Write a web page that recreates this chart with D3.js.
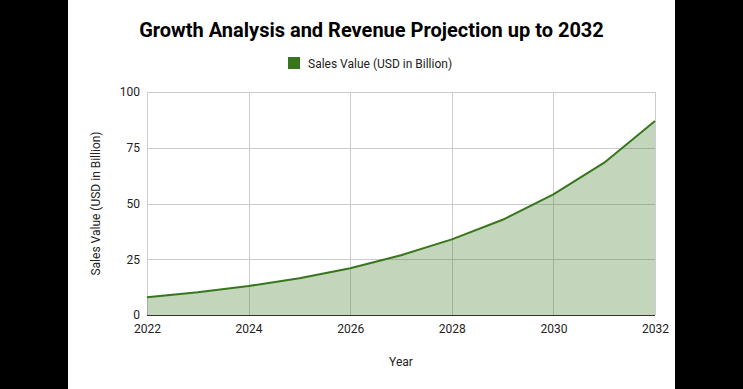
<!DOCTYPE html>
<html>
<head>
<meta charset="utf-8">
<script src="https://cdn.jsdelivr.net/npm/d3@7"></script>
<style>
  body{margin:0;background:#000;}
  svg{display:block;}
  text{font-family:Roboto,"Noto Sans",sans-serif;}
</style>
</head>
<body>
<script>
// chart data
var years=[2022,2023,2024,2025,2026,2027,2028,2029,2030,2031,2032];
var sales=[8.0,10.2,13.0,16.5,21.0,26.8,33.9,42.7,54.1,68.3,87.0];
var yTicks=[0,25,50,75,100];
var xTicks=[2022,2024,2026,2028,2030,2032];
var seriesName="Sales Value (USD in Billion)";

(function(){
var width=743,height=389;
var lineColor="#38761d";

var svg=d3.select("body").append("svg")
  .attr("width",width)
  .attr("height",height);

// white card
svg.append("rect").attr("x",68).attr("y",0).attr("width",607).attr("height",height).attr("fill","#fff");

var plotL=147,plotR=655,plotT=92,plotB=315;
var x=d3.scaleLinear().domain([2022,2032]).range([plotL,plotR]);
var y=d3.scaleLinear().domain([0,100]).range([plotB,plotT]);

//GRID
svg.append("g").selectAll("line").data(yTicks).enter().append("line")
  .attr("x1",plotL).attr("x2",plotR)
  .attr("y1",function(d){return Math.round(y(d))+0.5;}).attr("y2",function(d){return Math.round(y(d))+0.5;})
  .attr("stroke","#cccccc");
svg.append("g").selectAll("line").data(xTicks).enter().append("line")
  .attr("x1",function(d){return Math.round(x(d))+0.5;}).attr("x2",function(d){return Math.round(x(d))+0.5;})
  .attr("y1",plotT).attr("y2",plotB)
  .attr("stroke","#cccccc");

//AREA + LINE
var pts=years.map(function(d,i){return [d,sales[i]];});
svg.append("path").datum(pts)
  .attr("d",d3.area().x(function(d){return x(d[0]);}).y0(y(0)).y1(function(d){return y(d[1]);}))
  .attr("fill",lineColor).attr("fill-opacity",0.3);
svg.append("path").datum(pts)
  .attr("d",d3.line().x(function(d){return x(d[0]);}).y(function(d){return y(d[1]);}))
  .attr("fill","none").attr("stroke",lineColor).attr("stroke-width",2).attr("stroke-linejoin","round");

// baseline
svg.append("line").attr("x1",plotL).attr("x2",plotR).attr("y1",y(0)+0.5).attr("y2",y(0)+0.5)
  .attr("stroke","#333").attr("stroke-width",1);

//AXES
var yAxis=d3.axisLeft(y).tickValues(yTicks).tickSize(0).tickPadding(7);
var gy=svg.append("g").attr("transform","translate("+plotL+",0)").call(yAxis);
gy.select(".domain").remove();
gy.selectAll("text").attr("font-size",12).attr("fill","#222").attr("font-family","Roboto");

var xAxis=d3.axisBottom(x).tickValues(xTicks).tickFormat(d3.format("d")).tickSize(0).tickPadding(9);
var gx=svg.append("g").attr("transform","translate(0,"+plotB+")").call(xAxis);
gx.select(".domain").remove();
gx.selectAll("text").attr("font-size",12).attr("fill","#222").attr("font-family","Roboto");

//TITLES
svg.append("text").attr("x",371.5).attr("y",37).attr("text-anchor","middle")
  .attr("font-size",20).attr("font-weight","bold").attr("fill","#000")
  .text("Growth Analysis and Revenue Projection up to 2032");

svg.append("text").attr("x",401).attr("y",366).attr("text-anchor","middle")
  .attr("font-size",12).attr("fill","#222").text("Year");

svg.append("text").attr("transform","translate(100,"+((plotT+plotB)/2)+") rotate(-90)")
  .attr("text-anchor","middle").attr("font-size",12).attr("fill","#222").text(seriesName);

//LEGEND
svg.append("rect").attr("x",288).attr("y",57).attr("width",12).attr("height",12).attr("fill",lineColor);
svg.append("text").attr("x",308).attr("y",67.5).attr("font-size",12).attr("fill","#222").text(seriesName);
})();
</script>
</body>
</html>
